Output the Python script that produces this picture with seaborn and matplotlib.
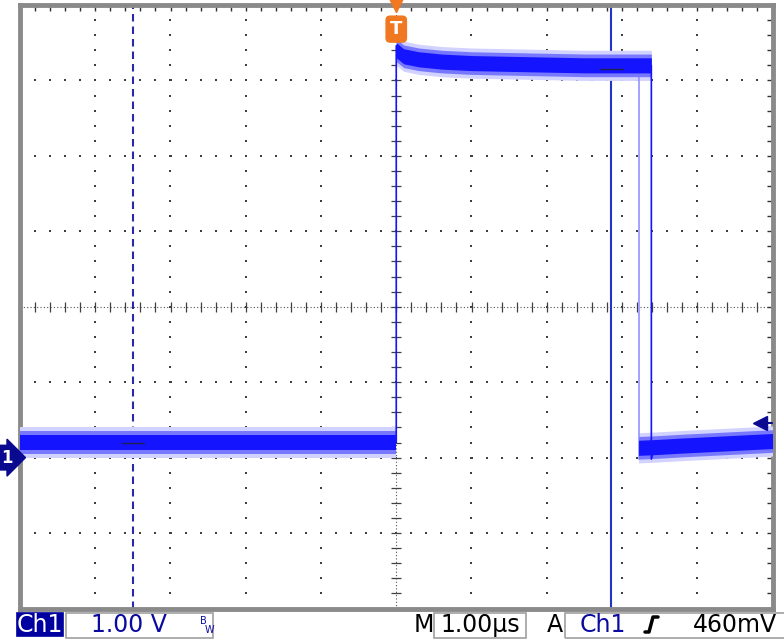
import numpy as np
import pandas as pd
import seaborn as sns
import matplotlib.pyplot as plt
import matplotlib.transforms as mtransforms
from matplotlib.patches import Rectangle
from matplotlib.lines import Line2D

# Scope screen: 1 V/div, 1 us/div, ch1 ground 2 div below centre
xlim_us = (-5.0, 5.0)
ylim_v = (-2.0, 6.0)

# trace centre line (time in us, level in V)
trace_t = [-5.0, 0.0, 0.0, 0.1, 0.3, 0.6, 1.0, 1.5, 2.0, 2.5, 3.0, 3.39, 3.39, 3.43, 3.8, 4.2, 4.6, 5.0]
trace_v = [0.20, 0.20, 5.46, 5.32, 5.28, 5.25, 5.23, 5.22, 5.21, 5.20, 5.20, 5.20, -0.02, 0.13, 0.16, 0.18, 0.20, 0.22]

# noisy parts of the trace (drawn as a band)
low_before_t = [-5.0, -2.5, 0.0]
low_before_v = [0.20, 0.20, 0.20]
high_t = [0.0, 0.1, 0.3, 0.6, 1.0, 1.5, 2.0, 2.5, 3.0, 3.39]
high_v = [5.40, 5.32, 5.28, 5.25, 5.23, 5.22, 5.21, 5.20, 5.20, 5.20]
low_after_t = [3.22, 3.45, 3.8, 4.2, 4.6, 5.0]
low_after_v = [0.13, 0.14, 0.16, 0.18, 0.20, 0.22]
noise_bands = [(0.20, "#d2d2ff"), (0.15, "#7878ff"), (0.10, "#1414ff")]

# faint earlier falling edge (persistence)
ghost_t = [3.22, 3.22]
ghost_v = [5.20, -0.02]

# cursors and trigger
cursor1_us = -3.50
cursor2_us = 2.86
trigger_us = 0.0
trigger_level_v = 0.46

trace_color = "#1414ff"

sns.set_style("white")
fig = plt.figure(figsize=(7.84, 6.43), dpi=100)
ax = fig.add_axes([20 / 784, 1 - 608.5 / 643, 752.5 / 784, 603.5 / 643])
ax.set_xlim(*xlim_us)
ax.set_ylim(*ylim_v)

# graticule dots
fine = np.arange(-5.0, 5.001, 0.2)
fine_y = np.arange(-2.0, 6.001, 0.2)
for gx in [-4, -3, -2, -1, 1, 2, 3, 4]:
    ax.scatter(np.full(len(fine_y), gx), fine_y, s=2.5, marker="s", color="#404040", lw=0, zorder=1)
for gy in [-1, 0, 1, 3, 4, 5]:
    ax.scatter(fine, np.full(len(fine), gy), s=2.5, marker="s", color="#404040", lw=0, zorder=1)
# centre lines with ticks
ax.axvline(0, color="#505050", lw=0.8, ls=(0, (1, 2)), zorder=1)
ax.axhline(2, color="#505050", lw=0.8, ls=(0, (1, 2)), zorder=1)
ax.plot(fine, np.full(len(fine), 2.0), ls="none", marker="|", ms=7, mew=0.9, color="#404040", zorder=1)
ax.plot(np.zeros(len(fine_y)), fine_y, ls="none", marker="_", ms=7, mew=0.9, color="#404040", zorder=1)

# frame
for s in ax.spines.values():
    s.set_color("#8a8a8a")
    s.set_linewidth(3.5)
ax.set_xticks(np.arange(-5, 5.01, 0.2))
ax.set_yticks(np.arange(-2, 6.01, 0.2))
ax.tick_params(direction="in", length=4, width=1, color="#303030",
               top=True, right=True, labelbottom=False, labelleft=False)

# cursors
ax.axvline(cursor1_us, color="#2a2aa8", lw=1.5, dashes=(3.6, 2.4), zorder=2)
ax.axvline(cursor2_us, color="#2233c8", lw=1.5, zorder=2)

# noise bands
for bt, bv in [(low_before_t, low_before_v), (high_t, high_v), (low_after_t, low_after_v)]:
    bt = np.array(bt)
    bv = np.array(bv)
    for k, (half, col) in enumerate(noise_bands):
        ax.fill_between(bt, bv - half, bv + half, color=col, lw=0, zorder=3 + k * 0.1)

# trace
df = pd.DataFrame({"t": trace_t, "v": trace_v})
sns.lineplot(data=df, x="t", y="v", sort=False, estimator=None, color=trace_color, lw=1.2, ax=ax, zorder=5)
ax.plot(ghost_t, ghost_v, color="#9494ff", lw=1.2, zorder=3)
ax.set_xlabel("")
ax.set_ylabel("")

# cursor readout marks
ax.plot([cursor1_us - 0.15, cursor1_us + 0.15], [low_before_v[0]] * 2, color="#202050", lw=1, zorder=6)
ax.plot([cursor2_us - 0.15, cursor2_us + 0.15], [high_v[-1] - 0.05] * 2, color="#202050", lw=1, zorder=6)

# trigger level marker on the right
ax.plot([4.84, 5.0], [trigger_level_v] * 2, color="#0a0a90", lw=1.5, zorder=6, clip_on=False)
ax.plot([4.84], [trigger_level_v], marker="<", ms=10, color="#0a0a90", zorder=6, clip_on=False)

# trigger position marker on top
bt_top = mtransforms.blended_transform_factory(ax.transData, ax.transAxes)
ax.plot([trigger_us], [1.0], marker="v", ms=10, color="#f07820", transform=bt_top, clip_on=False, zorder=7)
ax.text(trigger_us, 0.96, "T", transform=bt_top, ha="center", va="center", color="white",
        fontsize=13, fontweight="bold", zorder=7,
        bbox=dict(boxstyle="round,pad=0.22", fc="#f07820", ec="#f07820"))

# channel 1 ground marker on the left
bt_left = mtransforms.blended_transform_factory(ax.transAxes, ax.transData)
ax.text(-0.018, 0.0, "1", transform=bt_left, ha="center", va="center", color="white",
        fontsize=12, fontweight="bold", zorder=7,
        bbox=dict(boxstyle="rarrow,pad=0.2", fc="#0a0a90", ec="#0a0a90"))


# status bar (pixel positions)
def fx(px):
    return px / 784


def fy(py):
    return 1 - py / 643


def box(x0, y0, x1, y1, fc="none", ec="#a0a0a0"):
    fig.patches.append(Rectangle((fx(x0), fy(y1)), fx(x1) - fx(x0), fy(y0) - fy(y1),
                                 transform=fig.transFigure, fc=fc, ec=ec, lw=1.2))


navy = "#0a0aa0"
box(17, 613, 63, 636, fc="#0000a0", ec="#0000a0")
fig.text(fx(40), fy(625), "Ch1", color="white", fontsize=17, ha="center", va="center")
box(66, 613, 213, 638)
fig.text(fx(129), fy(625), "1.00 V", color=navy, fontsize=17, ha="center", va="center")
fig.text(fx(203), fy(621), "B", color=navy, fontsize=7, ha="center", va="center")
fig.text(fx(209), fy(630), "W", color=navy, fontsize=7, ha="center", va="center")

fig.text(fx(424), fy(625), "M", color="black", fontsize=17, ha="center", va="center")
box(434, 613, 526, 638)
fig.text(fx(480), fy(625), "1.00µs", color="black", fontsize=17, ha="center", va="center")
fig.text(fx(555), fy(625), "A", color="black", fontsize=17, ha="center", va="center")
box(565, 613, 790, 638)
fig.text(fx(603), fy(625), "Ch1", color=navy, fontsize=17, ha="center", va="center")
fig.lines.append(Line2D([fx(645), fx(649), fx(653), fx(658)], [fy(632), fy(632), fy(617), fy(617)],
                        transform=fig.transFigure, color="black", lw=2.5))
fig.text(fx(735), fy(625), "460mV", color="black", fontsize=17, ha="center", va="center")

fig.savefig("out.png", dpi=100)
